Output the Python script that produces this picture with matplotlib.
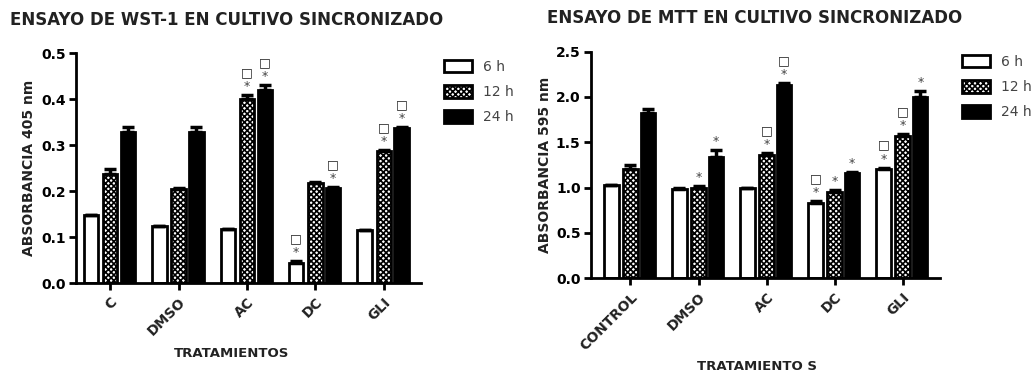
import matplotlib
matplotlib.use("Agg")
import matplotlib.pyplot as plt
import numpy as np

plt.rcParams['font.family'] = ['DejaVu Sans']
plt.rcParams['hatch.linewidth'] = 1.2

# ---- WST-1 assay ----
wst_groups = ["C", "DMSO", "AC", "DC", "GLI"]
wst_6h = [0.148, 0.125, 0.118, 0.044, 0.116]
wst_12h = [0.237, 0.205, 0.400, 0.217, 0.288]
wst_24h = [0.328, 0.328, 0.420, 0.206, 0.337]
wst_err_6h = [0.0, 0.0, 0.0, 0.003, 0.0]
wst_err_12h = [0.011, 0.002, 0.009, 0.002, 0.002]
wst_err_24h = [0.012, 0.012, 0.011, 0.002, 0.003]
# significance marks per series: "" none, "*" or "□*"
wst_sig_6h = ["", "", "", "□*", ""]
wst_sig_12h = ["", "", "□*", "", "□*"]
wst_sig_24h = ["", "", "□*", "□*", "□*"]

# ---- MTT assay ----
mtt_groups = ["CONTROL", "DMSO", "AC", "DC", "GLI"]
mtt_6h = [1.03, 0.98, 1.00, 0.83, 1.20]
mtt_12h = [1.21, 1.00, 1.36, 0.95, 1.57]
mtt_24h = [1.82, 1.34, 2.13, 1.16, 2.00]
mtt_err_6h = [0.0, 0.02, 0.0, 0.02, 0.02]
mtt_err_12h = [0.04, 0.02, 0.02, 0.02, 0.02]
mtt_err_24h = [0.05, 0.07, 0.02, 0.01, 0.07]
mtt_sig_6h = ["", "", "", "□*", "□*"]
mtt_sig_12h = ["", "*", "□*", "*", "□*"]
mtt_sig_24h = ["", "*", "□*", "*", "*"]

series_labels = ["6 h", "12 h", "24 h"]

W, H = 1034, 374


def draw_panel(fig, ax, groups, vals, errs, sigs, ylim, yticks, ylabel, xlabel,
               ylabel_xy, xlabel_xy, xlim, legend_xy):
    x = np.arange(len(groups))
    offsets = [-0.28, 0.0, 0.26]
    width = 0.21
    styles = [dict(facecolor="white", hatch=None),
              dict(facecolor="white", hatch="xxxxxx"),
              dict(facecolor="black", hatch=None)]
    handles = []
    for v, e, s, off, st, lab in zip(vals, errs, sigs, offsets, styles, series_labels):
        bars = ax.bar(x + off, v, width, edgecolor="black", linewidth=2,
                      facecolor=st["facecolor"], hatch=st["hatch"], label=lab,
                      yerr=[np.zeros(len(e)), e], capsize=4,
                      error_kw=dict(ecolor="black", elinewidth=2.5, capthick=2.5),
                      zorder=2)
        handles.append(bars)
        for xi, vi, ei, si in zip(x + off, v, e, s):
            if not si:
                continue
            top = vi + ei
            ax.annotate("*", (xi, top), xytext=(0, 1.5), textcoords="offset points",
                        ha="center", va="bottom", fontsize=9, color="#444444")
            if si.startswith("□"):
                ax.annotate("□", (xi, top), xytext=(0, 11.5), textcoords="offset points",
                            ha="center", va="bottom", fontsize=9, color="#222222")
    ax.set_xlim(*xlim)
    ax.set_ylim(*ylim)
    ax.set_yticks(yticks)
    ax.set_yticklabels([f"{t:.1f}" for t in yticks], fontsize=10, fontweight="bold")
    ax.set_xticks(x)
    ax.set_xticklabels(groups, rotation=45, ha="right", rotation_mode="anchor",
                       fontsize=10, fontweight="bold", color="#222222")
    for side in ("top", "right"):
        ax.spines[side].set_visible(False)
    for side in ("left", "bottom"):
        ax.spines[side].set_linewidth(2)
    ax.tick_params(axis="both", width=2, length=5, direction="out")
    ax.tick_params(axis="y", pad=2.5)
    ax.set_ylabel(ylabel, fontsize=10, fontweight="bold", color="#222222")
    ax.yaxis.set_label_coords(*ylabel_xy)
    ax.set_xlabel(xlabel, fontsize=9.5, fontweight="bold", color="#222222")
    ax.xaxis.set_label_coords(*xlabel_xy)
    fig.legend(handles=handles, loc="upper left",
               bbox_to_anchor=(legend_xy[0] / W, 1 - legend_xy[1] / H),
               bbox_transform=fig.transFigure, frameon=False, fontsize=10,
               handlelength=2.0, handleheight=1.0, labelspacing=0.8,
               handletextpad=0.8, borderpad=0, borderaxespad=0,
               labelcolor="#444444")


fig = plt.figure(figsize=(W / 100, H / 100), dpi=100)
ax1 = fig.add_axes([0.0735, 0.243, 0.334, 0.615])
ax2 = fig.add_axes([0.5716, 0.256, 0.3375, 0.606])

draw_panel(fig, ax1, wst_groups,
           [wst_6h, wst_12h, wst_24h],
           [wst_err_6h, wst_err_12h, wst_err_24h],
           [wst_sig_6h, wst_sig_12h, wst_sig_24h],
           (0, 0.5), [0.0, 0.1, 0.2, 0.3, 0.4, 0.5],
           "ABSORBANCIA 405 nm", "TRATAMIENTOS",
           (-0.115, 0.5), (0.451, -0.278), (-0.5, 4.55), (444, 60))

draw_panel(fig, ax2, mtt_groups,
           [mtt_6h, mtt_12h, mtt_24h],
           [mtt_err_6h, mtt_err_12h, mtt_err_24h],
           [mtt_sig_6h, mtt_sig_12h, mtt_sig_24h],
           (0, 2.5), [0.0, 0.5, 1.0, 1.5, 2.0, 2.5],
           "ABSORBANCIA 595 nm", "TRATAMIENTO S",
           (-0.112, 0.5), (0.476, -0.36), (-0.58, 4.55), (962, 55))

fig.text(10 / W, 1 - 20 / H, "ENSAYO DE WST-1 EN CULTIVO SINCRONIZADO",
         fontsize=12, fontweight="bold", ha="left", va="center", color="#222222")
fig.text(547 / W, 1 - 18 / H, "ENSAYO DE MTT EN CULTIVO SINCRONIZADO",
         fontsize=12, fontweight="bold", ha="left", va="center", color="#222222")

fig.savefig("out.png", dpi=100)
